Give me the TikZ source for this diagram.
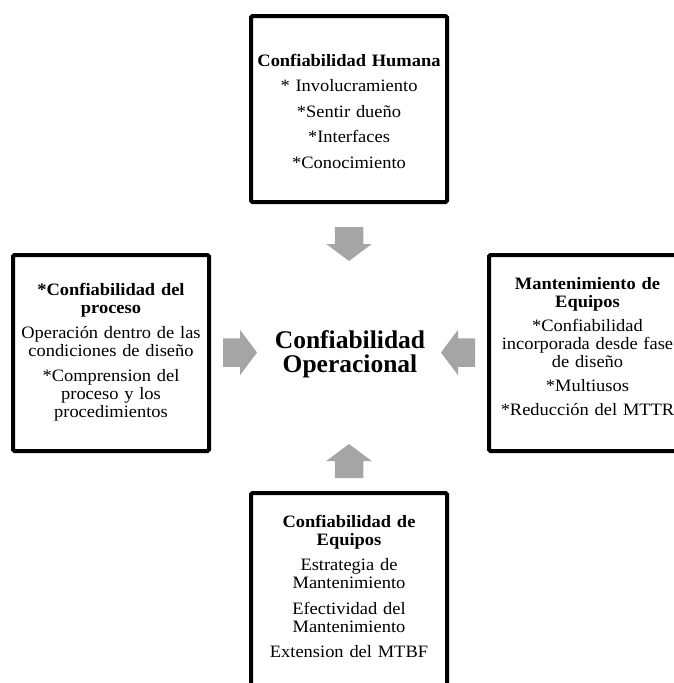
\documentclass[tikz,border=0pt]{standalone}
\usepackage{fontspec}
\setmainfont{Liberation Serif}
\newfontfamily\boxfont{Liberation Serif}[FakeStretch=1.06]
\definecolor{arrowgrey}{HTML}{A5A5A5}
\tikzset{
  frame/.style={draw=black, line width=4pt, rounded corners=1.5pt, inner sep=0pt,
                minimum width=196pt, minimum height=196pt},
  boxtext/.style={anchor=base, inner sep=0pt, text width=230pt, align=center,
                  font=\boxfont\fontsize{17.4}{18}\selectfont},
  centertext/.style={anchor=base, inner sep=0pt, text width=230pt, align=center,
                  font=\bfseries\fontsize{25.5}{24}\selectfont},
  blockarrow/.pic={
    \fill[arrowgrey] (0,0) -- (-17,22.75) -- (-17,14.25) -- (-34,14.25)
      -- (-34,-14.25) -- (-17,-14.25) -- (-17,-22.75) -- cycle;
  }
}
\begin{document}
\begin{tikzpicture}[x=1pt,y=-1pt]
\useasboundingbox (0,0) rectangle (674,683);
\clip (0,0) rectangle (674,683);

% boxes
\node[frame, minimum height=186pt] (hum) at (349,109) {};
\node[frame] (proc) at (111,353) {};
\node[frame] (mant) at (587,353) {};
\node[frame] (equi) at (349,591) {};

% texts
\node[boxtext] (humtxt) at (349,66) {\textbf{Confiabilidad Humana}\\[7.5pt]
  * Involucramiento\\[7.5pt]*Sentir dueño\\[7.5pt]*Interfaces\\[7.5pt]*Conocimiento};
\node[boxtext] (proctxt) at (111,295) {\textbf{*Confiabilidad del}\\\textbf{proceso}\\[7pt]
  Operación dentro de las\\condiciones de diseño\\[7pt]
  *Comprension del\\proceso y los\\procedimientos};
\node[boxtext] (manttxt) at (587.5,289) {\textbf{Mantenimiento de}\\\textbf{Equipos}\\[6pt]
  *Confiabilidad\\incorporada desde fase\\de diseño\\[6pt]
  *Multiusos\\[6pt]*Reducción del MTTR};
\node[boxtext] (equitxt) at (349,527) {\textbf{Confiabilidad de}\\\textbf{Equipos}\\[7.5pt]
  Estrategia de\\Mantenimiento\\[7.5pt]
  Efectividad del\\Mantenimiento\\[7.5pt]
  Extension del MTBF};

\node[centertext] (core) at (350,348) {Confiabilidad\\Operacional};

% block arrows pointing to the centre
\pic (arrtop) [rotate=-90] at (349,261) {blockarrow};
\pic (arrbot) [rotate=90] at (349,444) {blockarrow};
\pic (arrleft) at (257,352.5) {blockarrow};
\pic (arrright) [rotate=180] at (441,352.5) {blockarrow};
\end{tikzpicture}
\end{document}
